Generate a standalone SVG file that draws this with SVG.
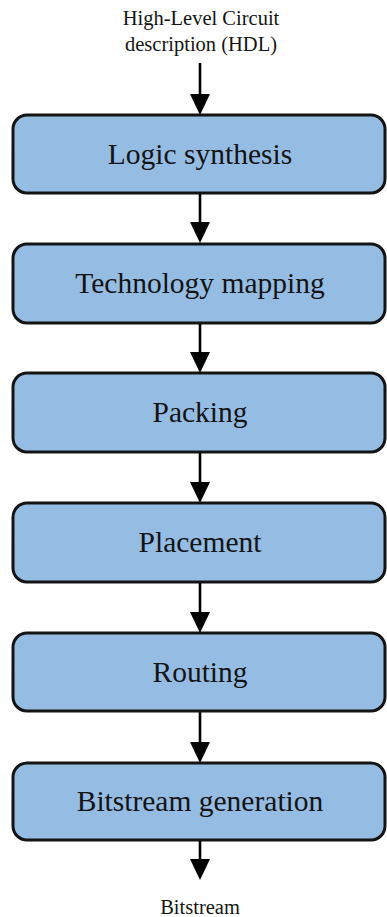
<svg xmlns="http://www.w3.org/2000/svg" width="387" height="917" viewBox="0 0 387 917">
<style>
.box{fill:#95bce3;stroke:#141414;stroke-width:3}
.lbl{font-family:"Liberation Serif","Times New Roman",serif;font-size:29.5px;fill:#141414;text-anchor:middle}
.io{font-family:"Liberation Serif","Times New Roman",serif;font-size:20.5px;fill:#141414;text-anchor:middle}
.edge{stroke:#000;stroke-width:2.6;fill:none}
.head{fill:#000}
</style>
<rect width="387" height="917" fill="#fff"/>
<g id="input">
<text class="io" x="201" y="25">High-Level Circuit</text>
<text class="io" x="201" y="51">description (HDL)</text>
</g>
<g id="logic-synthesis"><rect class="box" x="13" y="115" width="372" height="78" rx="14"/><text class="lbl" x="200" y="164">Logic synthesis</text></g>
<g id="technology-mapping"><rect class="box" x="13" y="244" width="372" height="79" rx="14"/><text class="lbl" x="200" y="293">Technology mapping</text></g>
<g id="packing"><rect class="box" x="13" y="373" width="372" height="79" rx="14"/><text class="lbl" x="200" y="422">Packing</text></g>
<g id="placement"><rect class="box" x="13" y="503" width="372" height="79" rx="14"/><text class="lbl" x="200" y="552">Placement</text></g>
<g id="routing"><rect class="box" x="13" y="633" width="372" height="78" rx="14"/><text class="lbl" x="200" y="682">Routing</text></g>
<g id="bitstream-generation"><rect class="box" x="13" y="763" width="372" height="77" rx="14"/><text class="lbl" x="200" y="811">Bitstream generation</text></g>
<g id="output"><text class="io" x="200" y="914">Bitstream</text></g>
<g id="connectors">
<line class="edge" x1="200" y1="63" x2="200" y2="96"/><polygon class="head" points="190,94 210,94 200,115"/>
<line class="edge" x1="200" y1="194" x2="200" y2="224"/><polygon class="head" points="190,222 210,222 200,243"/>
<line class="edge" x1="200" y1="324" x2="200" y2="354"/><polygon class="head" points="190,352 210,352 200,373"/>
<line class="edge" x1="200" y1="453" x2="200" y2="484"/><polygon class="head" points="190,482 210,482 200,503"/>
<line class="edge" x1="200" y1="583" x2="200" y2="614"/><polygon class="head" points="190,612 210,612 200,633"/>
<line class="edge" x1="200" y1="712" x2="200" y2="744"/><polygon class="head" points="190,742 210,742 200,763"/>
<line class="edge" x1="200" y1="841" x2="200" y2="861"/><polygon class="head" points="190,859 210,859 200,880"/>
</g>
</svg>
